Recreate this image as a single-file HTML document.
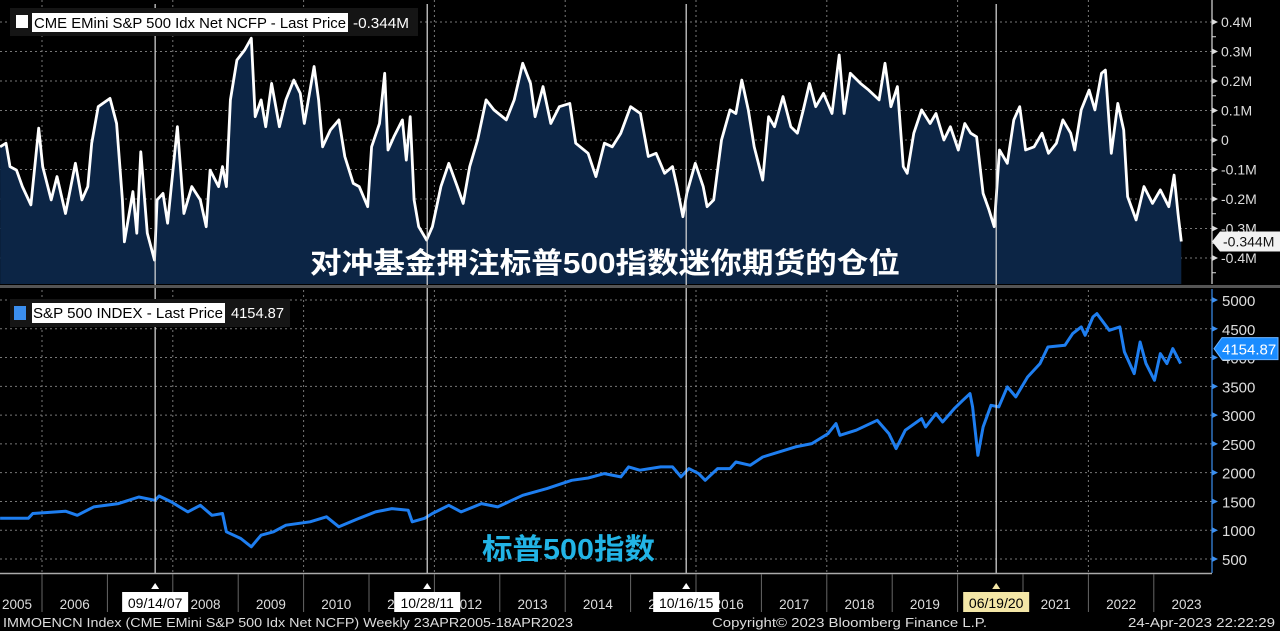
<!DOCTYPE html>
<html><head><meta charset="utf-8">
<style>
html,body{margin:0;padding:0;background:#000;}
body{width:1280px;height:631px;overflow:hidden;position:relative;font-family:"Liberation Sans","Noto Sans CJK SC",sans-serif;}
svg{position:absolute;left:0;top:0;}
</style></head>
<body>
<svg id="chart" width="1280" height="631" viewBox="0 0 1280 631" xmlns="http://www.w3.org/2000/svg">
  <g id="gridG"></g>
  <g id="topG"></g>
  <g id="botG"></g>
  <g id="markG"></g>
  <g id="axesG"></g>
  <rect x="0" y="285" width="1280" height="3" fill="#555"/>
  <g>
    <rect x="10" y="8" width="408" height="28" fill="#151515"/>
    <rect x="16" y="15" width="12" height="13" fill="#fff"/>
    <rect x="32" y="13" width="316" height="19" fill="#fff"/>
    <text x="34" y="28" font-size="14.5" fill="#000" textLength="312" lengthAdjust="spacingAndGlyphs">CME EMini S&amp;P 500 Idx Net NCFP - Last Price</text>
    <text x="353" y="28" font-size="14.5" fill="#fff" textLength="56" lengthAdjust="spacingAndGlyphs">-0.344M</text>
  </g>
  <g>
    <rect x="10" y="299" width="280" height="28" fill="#151515"/>
    <rect x="14" y="306" width="12" height="14" fill="#3b8ff0"/>
    <rect x="32" y="303" width="193" height="20" fill="#fff"/>
    <text x="33" y="318" font-size="14.5" fill="#000" textLength="190" lengthAdjust="spacingAndGlyphs">S&amp;P 500 INDEX - Last Price</text>
    <text x="231" y="318" font-size="14.5" fill="#fff" textLength="53" lengthAdjust="spacingAndGlyphs">4154.87</text>
  </g>
  <text x="310" y="273" font-size="29" font-weight="bold" fill="#fff" textLength="590" lengthAdjust="spacingAndGlyphs">对冲基金押注标普500指数迷你期货的仓位</text>
  <text x="482" y="559" font-size="29" font-weight="bold" fill="#22b4e6" textLength="173" lengthAdjust="spacingAndGlyphs">标普500指数</text>
  <g id="xaxisG"></g>
  <text x="3" y="627" font-size="12.5" fill="#ddd" textLength="570" lengthAdjust="spacingAndGlyphs">IMMOENCN Index (CME EMini S&amp;P 500 Idx Net NCFP)  Weekly 23APR2005-18APR2023</text>
  <text x="712" y="627" font-size="12.5" fill="#ddd" textLength="275" lengthAdjust="spacingAndGlyphs">Copyright© 2023 Bloomberg Finance L.P.</text>
  <text x="1128" y="627" font-size="12.5" fill="#ddd" textLength="147" lengthAdjust="spacingAndGlyphs">24-Apr-2023 22:22:29</text>
</svg>
<script>
const ncfpDates=[2005.36,2005.45,2005.51,2005.61,2005.70,2005.83,2005.95,2006.01,2006.14,2006.23,2006.36,2006.51,2006.61,2006.70,2006.76,2006.86,2007.04,2007.14,2007.23,2007.26,2007.39,2007.45,2007.51,2007.61,2007.72,2007.76,2007.85,2007.92,2008.07,2008.17,2008.29,2008.42,2008.51,2008.57,2008.70,2008.76,2008.82,2008.88,2008.98,2009.10,2009.20,2009.26,2009.35,2009.42,2009.51,2009.63,2009.73,2009.85,2009.95,2010.01,2010.16,2010.23,2010.29,2010.41,2010.54,2010.63,2010.76,2010.85,2010.98,2011.04,2011.16,2011.24,2011.29,2011.38,2011.51,2011.57,2011.63,2011.69,2011.76,2011.88,2011.97,2012.10,2012.22,2012.35,2012.44,2012.54,2012.66,2012.79,2012.91,2013.10,2013.22,2013.35,2013.47,2013.54,2013.66,2013.78,2013.91,2014.07,2014.16,2014.35,2014.47,2014.60,2014.72,2014.85,2015.00,2015.15,2015.27,2015.39,2015.52,2015.64,2015.71,2015.80,2015.86,2015.99,2016.11,2016.17,2016.27,2016.39,2016.52,2016.61,2016.70,2016.80,2016.89,2017.02,2017.11,2017.20,2017.33,2017.45,2017.55,2017.64,2017.735,2017.83,2017.95,2018.08,2018.19,2018.265,2018.36,2018.515,2018.64,2018.80,2018.89,2018.98,2019.08,2019.17,2019.23,2019.33,2019.45,2019.58,2019.67,2019.79,2019.89,2020.01,2020.11,2020.20,2020.29,2020.39,2020.48,2020.56,2020.64,2020.76,2020.86,2020.95,2021.04,2021.17,2021.29,2021.39,2021.51,2021.61,2021.73,2021.79,2021.89,2022.01,2022.10,2022.20,2022.26,2022.35,2022.45,2022.54,2022.60,2022.73,2022.85,2022.98,2023.10,2023.23,2023.31,2023.37,2023.42];
const ncfpValues=[-0.023,-0.011,-0.090,-0.102,-0.158,-0.220,0.040,-0.090,-0.203,-0.124,-0.249,-0.079,-0.203,-0.158,-0.011,0.113,0.141,0.056,-0.203,-0.345,-0.175,-0.316,-0.040,-0.316,-0.407,-0.203,-0.181,-0.282,0.045,-0.249,-0.158,-0.203,-0.294,-0.102,-0.158,-0.090,-0.158,0.136,0.271,0.305,0.345,0.079,0.136,0.045,0.192,0.045,0.136,0.203,0.158,0.056,0.249,0.136,-0.023,0.034,0.068,-0.056,-0.147,-0.158,-0.226,-0.023,0.056,0.226,-0.034,0.011,0.068,-0.068,0.079,-0.203,-0.294,-0.339,-0.294,-0.158,-0.079,-0.158,-0.215,-0.090,0,0.136,0.102,0.068,0.136,0.260,0.192,0.079,0.181,0.056,0.113,0.124,-0.011,-0.045,-0.124,-0.011,-0.023,0.023,0.113,0.090,-0.056,-0.045,-0.113,-0.090,-0.158,-0.260,-0.181,-0.079,-0.158,-0.226,-0.203,0,0.102,0.090,0.203,0.102,-0.023,-0.136,0.079,0.045,0.147,0.045,0.023,0.102,0.192,0.113,0.158,0.090,0.288,0.090,0.226,0.192,0.169,0.136,0.260,0.113,0.181,-0.090,-0.113,0.023,0.102,0.056,0.090,0,0.045,-0.034,0.056,0.023,0.011,-0.181,-0.237,-0.294,-0.034,-0.079,0.068,0.113,-0.034,-0.023,0.023,-0.045,-0.011,0.068,0.023,-0.034,0.102,0.169,0.102,0.226,0.237,-0.045,0.124,0.034,-0.192,-0.271,-0.158,-0.215,-0.169,-0.226,-0.119,-0.249,-0.344];
const spxDates=[2005.36,2005.79,2005.86,2006.36,2006.54,2006.79,2007.17,2007.48,2007.73,2007.79,2007.98,2008.23,2008.42,2008.60,2008.76,2008.82,2009.04,2009.20,2009.35,2009.54,2009.73,2010.10,2010.35,2010.54,2010.85,2011.10,2011.35,2011.60,2011.66,2011.85,2011.97,2012.22,2012.41,2012.72,2012.97,2013.35,2013.72,2014.10,2014.35,2014.60,2014.85,2014.97,2015.14,2015.46,2015.64,2015.77,2015.89,2016.04,2016.14,2016.33,2016.52,2016.61,2016.83,2017.02,2017.27,2017.52,2017.77,2018.02,2018.14,2018.20,2018.45,2018.77,2018.95,2019.06,2019.20,2019.45,2019.51,2019.67,2019.77,2019.95,2020.08,2020.19,2020.23,2020.31,2020.39,2020.51,2020.63,2020.76,2020.89,2021.07,2021.26,2021.38,2021.64,2021.76,2021.89,2021.95,2022.07,2022.13,2022.32,2022.48,2022.55,2022.70,2022.79,2022.88,2023.01,2023.10,2023.20,2023.29,2023.41];
const spxValues=[1207,1207,1290,1330,1260,1405,1462,1578,1520,1595,1491,1318,1433,1260,1290,972,856,712,914,972,1088,1146,1233,1059,1207,1318,1376,1347,1146,1207,1290,1433,1318,1462,1405,1607,1723,1868,1908,1984,1926,2100,2042,2100,2100,1926,2070,1984,1868,2070,2070,2186,2128,2273,2360,2447,2505,2678,2852,2650,2737,2910,2678,2418,2737,2939,2794,3026,2881,3113,3258,3374,3142,2302,2794,3171,3142,3490,3316,3663,3895,4184,4213,4416,4532,4387,4706,4764,4474,4532,4098,3721,4271,3895,3605,4068,3895,4155,3895,4155];
const topTicks=[0.4,0.3,0.2,0.1,0,-0.1,-0.2,-0.3,-0.4];
const topTickLabels=["0.4M","0.3M","0.2M","0.1M","0","-0.1M","-0.2M","-0.3M","-0.4M"];
const botTicks=[5000,4500,4000,3500,3000,2500,2000,1500,1000,500];
const yearLabels=["2005","2006","2007","2008","2009","2010","2011","2012","2013","2014","2015","2016","2017","2018","2019","2020","2021","2022","2023"];
const yearStarts=[2005,2006,2007,2008,2009,2010,2011,2012,2013,2014,2015,2016,2017,2018,2019,2020,2021,2022,2023];
const markerDates=[2007.73,2011.89,2015.85,2020.59];
const markerLabels=["09/14/07","10/28/11","10/16/15","06/19/20"];

(function(){
const NS="http://www.w3.org/2000/svg";
const PLOT_R=1212;
function X(t){return 42+(t-2006)*65.4;}
function YT(v){return 140-v*295;}
function YB(v){return 559-(v-500)*259/4500;}
function mk(parent,tag,attrs){const e=document.createElementNS(NS,tag);for(const k in attrs)e.setAttribute(k,attrs[k]);parent.appendChild(e);return e;}

const gridG=document.getElementById('gridG');
for(let y=2006;y<=2022;y+=2){
  const l=mk(gridG,'line',{x1:X(y),x2:X(y),y1:0,y2:573,stroke:'#777','stroke-dasharray':'2,3','stroke-width':1});
  
  
}
topTicks.forEach(v=>{
  const l=mk(gridG,'line',{x1:0,x2:PLOT_R,y1:YT(v),y2:YT(v),stroke:'#777','stroke-dasharray':'2,3'});
  
  
});
botTicks.forEach(v=>{
  const l=mk(gridG,'line',{x1:0,x2:PLOT_R,y1:YB(v),y2:YB(v),stroke:'#777','stroke-dasharray':'2,3'});
  
  
});

const topG=document.getElementById('topG');
const pts=ncfpDates.map((d,i)=>[Math.max(0,X(d)),YT(ncfpValues[i])]);
const area='M'+pts[0][0]+',284 '+pts.map(p=>'L'+p[0].toFixed(1)+','+p[1].toFixed(1)).join(' ')+' L'+pts[pts.length-1][0].toFixed(1)+',284 Z';
const ar=mk(topG,'path',{d:area,fill:'#0c2545'});


const ln=mk(topG,'polyline',{points:pts.map(p=>p[0].toFixed(1)+','+p[1].toFixed(1)).join(' '),fill:'none',stroke:'#fff','stroke-width':2.8,'stroke-linejoin':'round'});



const botG=document.getElementById('botG');
const bl=mk(botG,'polyline',{points:spxDates.map((d,i)=>Math.max(0,X(d)).toFixed(1)+','+YB(spxValues[i]).toFixed(1)).join(' '),fill:'none',stroke:'#1e7ef0','stroke-width':3,'stroke-linejoin':'round'});



const markG=document.getElementById('markG');
markerDates.forEach(d=>{
  const l=mk(markG,'line',{x1:X(d),x2:X(d),y1:4,y2:573,stroke:'#ddd','stroke-width':1.2});
  
  
});

const axesG=document.getElementById('axesG');
const a1=mk(axesG,'line',{x1:PLOT_R,x2:PLOT_R,y1:0,y2:284,stroke:'#ddd','stroke-width':1.2});


const a2=mk(axesG,'line',{x1:PLOT_R,x2:PLOT_R,y1:289,y2:573,stroke:'#3b8ff0','stroke-width':1.2});


topTicks.forEach((v,i)=>{
  const y=YT(v);
  const tr=mk(axesG,'path',{d:`M${PLOT_R},${y-3} L${PLOT_R+6},${y} L${PLOT_R},${y+3}Z`,fill:'#ddd'});
  
  
  const mt=mk(axesG,'line',{x1:PLOT_R,x2:PLOT_R+4,y1:y+14.75,y2:y+14.75,stroke:'#ddd'});
  
  
  const t=mk(axesG,'text',{x:PLOT_R+9,y:y+5,'font-size':14,fill:'#ddd'});
  t.textContent=topTickLabels[i];
  
  
});
botTicks.forEach(v=>{
  const y=YB(v);
  const tr=mk(axesG,'path',{d:`M${PLOT_R},${y-3} L${PLOT_R+6},${y} L${PLOT_R},${y+3}Z`,fill:'#3b8ff0'});
  
  
  const t=mk(axesG,'text',{x:PLOT_R+10,y:y+6,'font-size':15,fill:'#ddd'});
  t.textContent=String(v);
  
  
});
const yl=YT(ncfpValues[ncfpValues.length-1]);
const g=mk(axesG,'path',{d:`M${PLOT_R},${yl} L${PLOT_R+8},${yl-10} L1280,${yl-10} L1280,${yl+10} L${PLOT_R+8},${yl+10}Z`,fill:'#f2f2f2'});


const t1=mk(axesG,'text',{x:PLOT_R+11,y:yl+5,'font-size':14,fill:'#111'});
t1.textContent='-0.344M';


const yb=YB(spxValues[spxValues.length-1]);
const g2=mk(axesG,'path',{d:`M${PLOT_R+2},${yb} L${PLOT_R+10},${yb-11} L1278,${yb-11} L1278,${yb+11} L${PLOT_R+10},${yb+11}Z`,fill:'#1a8cff',stroke:'#6fb5ff'});


const t2=mk(axesG,'text',{x:PLOT_R+10,y:yb+6,'font-size':15,fill:'#fff'});
t2.textContent='4154.87';



const xa=document.getElementById('xaxisG');
const base=mk(xa,'line',{x1:0,x2:PLOT_R,y1:573.5,y2:573.5,stroke:'#aaa','stroke-width':1.5});


yearStarts.forEach((y,i)=>{
  if(i>0){
    const s=mk(xa,'line',{x1:X(y),x2:X(y),y1:574,y2:612,stroke:'#666'});
    
    
  }
  const cx=Math.max(17,X(y+0.5));
  const t=mk(xa,'text',{x:cx,y:609,'font-size':13.5,fill:'#ddd','text-anchor':'middle'});
  t.textContent=yearLabels[i];
  
  
});
markerDates.forEach((d,i)=>{
  const x=X(d);
  const tri=mk(xa,'path',{d:`M${x-4},589 L${x},583 L${x+4},589Z`,fill:i==3?'#f3e6a6':'#fff'});
  
  
  const r=mk(xa,'rect',{x:x-33,y:592,width:66,height:20,fill:i==3?'#f3e6a6':'#fff'});
  
  
  const t=mk(xa,'text',{x:x,y:608,'font-size':14,fill:'#000','text-anchor':'middle'});
  t.textContent=markerLabels[i];
  
  
});
})();
</script>
</body></html>
